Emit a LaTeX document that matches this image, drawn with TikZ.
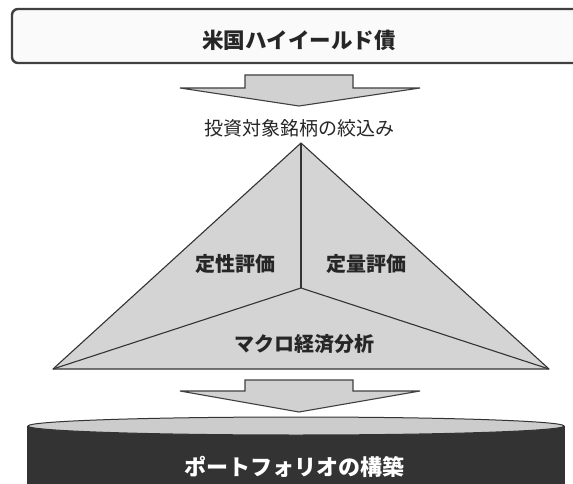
\documentclass[tikz,border=0pt]{standalone}
\usepackage{fontspec}
\setmainfont{Noto Sans CJK JP}
\begin{document}
\begin{tikzpicture}[x=1pt,y=-1pt,
  boxline/.style={draw=black!75,line width=2.4pt,rounded corners=6pt,fill=black!2},
  blockarrow/.style={draw=black!75,line width=1.1pt,fill=black!18,line join=miter},
  tri/.style={draw=black!80,line width=1.1pt,fill=black!17,line join=round},
  lbl/.style={font=\bfseries\fontsize{20}{20}\selectfont,text=black!85,inner sep=0pt},
  plain/.style={font=\fontsize{19}{19}\selectfont,text=black!85,inner sep=0pt}]
\useasboundingbox (0,0) rectangle (573,484);
\clip (0,0) rectangle (573,484);
\fill[white] (0,0) rectangle (573,484);
% top box
\draw[boxline] (12,9) rectangle (600,63);
\node[lbl,font=\bfseries\fontsize{21.5}{21.5}\selectfont] (top) at (299,40) {米国ハイイールド債};
% arrow 1
\draw[blockarrow] (245,75) -- (353,75) -- (353,88) -- (420,88) -- (299,106) -- (180,88) -- (245,88) -- cycle;
\node[plain] (screen) at (299,128) {投資対象銘柄の絞込み};
% triangle
\coordinate (apex) at (301,143);
\coordinate (bl) at (53,369);
\coordinate (br) at (549,369);
\coordinate (ctr) at (301,288);
\draw[tri] (apex) -- (br) -- (bl) -- cycle;
\draw[draw=black!80,line width=1.1pt] (apex) -- (ctr);
\draw[draw=black!80,line width=1.1pt] (bl) -- (ctr) -- (br);
\node[lbl] (qual) at (235,264) {定性評価};
\node[lbl] (quant) at (366,264) {定量評価};
\node[lbl] (macro) at (304,344) {マクロ経済分析};
% arrow 2
\draw[blockarrow] (245,380) -- (353,380) -- (353,391) -- (420,391) -- (299,412) -- (180,391) -- (245,391) -- cycle;
% bottom platform
\fill[black!80] (27,426) rectangle (565,490);
\draw[black!80,line width=1pt,fill=black!20] (296,426) ellipse [x radius=268, y radius=9];
\node[lbl,text=white,font=\bfseries\fontsize{22}{22}\selectfont] (port) at (294,467) {ポートフォリオの構築};
\end{tikzpicture}
\end{document}
